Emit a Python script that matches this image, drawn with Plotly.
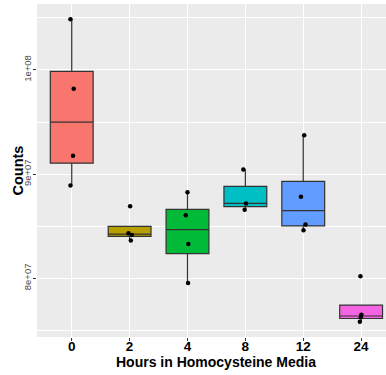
import numpy as np
import plotly.graph_objects as go

# ---- data ----
hours = ["0", "2", "4", "8", "12", "24"]
counts_0 = [104875000, 98202000, 91760000, 88913000]
counts_2 = [86923000, 84327000, 84163000, 83625000]
counts_4 = [88269000, 86058000, 83298000, 79548000]
counts_8 = [90452000, 87183000, 86567000]
counts_12 = [93721000, 87817000, 85163000, 84615000]
counts_24 = [80192000, 76510000, 76250000, 75817000]
groups = [counts_0, counts_2, counts_4, counts_8, counts_12, counts_24]

# small horizontal jitter seen in the picture (category units)
jitter = [[-0.022, 0.034, 0.022, -0.022],
          [0.009, -0.02, 0.038, 0.021],
          [0.0, -0.03, 0.015, 0.01],
          [-0.035, 0.012, -0.012],
          [0.017, -0.04, 0.04, 0.005],
          [-0.012, 0.005, -0.005, -0.022]]

colors = ["#F8766D", "#B79F00", "#00BA38", "#00BFC4", "#619CFF", "#F564E3"]
y_tickvals = [80000000, 90000000, 100000000]
y_ticktext = ["8e+07", "9e+07", "1e+08"]
y_minor = [75000000, 85000000, 95000000, 105000000]

FONT = "Liberation Sans, Arial, Helvetica, sans-serif"

fig = go.Figure()
for i, vals in enumerate(groups):
    v = np.array(vals, dtype=float)
    q1, med, q3 = np.percentile(v, [25, 50, 75])
    iqr = q3 - q1
    inside = v[(v >= q1 - 1.5 * iqr) & (v <= q3 + 1.5 * iqr)]
    lo = min(inside.min(), q1)
    hi = max(inside.max(), q3)
    fig.add_trace(go.Box(
        x=[i], q1=[q1], median=[med], q3=[q3], lowerfence=[lo], upperfence=[hi],
        fillcolor=colors[i], line=dict(color="#333333", width=1.2),
        width=0.74, whiskerwidth=0, boxpoints=False, showlegend=False,
        hoverinfo="skip"))

for i, vals in enumerate(groups):
    fig.add_trace(go.Scatter(
        x=[i + j for j in jitter[i]], y=vals, mode="markers",
        marker=dict(color="black", size=4.5), showlegend=False,
        hoverinfo="skip"))

allv = np.concatenate([np.array(g, dtype=float) for g in groups])
span = allv.max() - allv.min()
yr = [allv.min() - 0.05 * span, allv.max() + 0.05 * span]

fig.update_layout(
    width=386, height=375,
    margin=dict(l=37, r=0, t=4, b=38),
    plot_bgcolor="#EBEBEB", paper_bgcolor="white",
    font=dict(family=FONT),
    xaxis=dict(
        range=[-0.6, 5.43], tickmode="array", tickvals=list(range(len(hours))),
        ticktext=hours, tickfont=dict(size=13.5, color="black", family=FONT, weight="bold"),
        showgrid=True, gridcolor="white", gridwidth=1.4, zeroline=False,
        ticks="outside", ticklen=3, tickcolor="#333333", tickwidth=1,
        ticklabelstandoff=-6,
        showline=False, automargin=False),
    yaxis=dict(
        range=yr, tickmode="array", tickvals=y_tickvals, ticktext=y_ticktext,
        tickangle=-90, tickfont=dict(size=9.5, color="#4D4D4D", family=FONT),
        showgrid=True, gridcolor="white", gridwidth=1.4, zeroline=False,
        ticks="outside", ticklen=3, tickcolor="#333333", tickwidth=1,
        ticklabelstandoff=-2,
        minor=dict(tickmode="array", tickvals=y_minor, showgrid=True,
                   gridcolor="white", gridwidth=0.7, ticks=""),
        showline=False, automargin=False),
    annotations=[
        dict(text="<b>Counts</b>", xref="paper", yref="paper",
             x=(17 - 37) / 349, y=0.5, textangle=-90, showarrow=False,
             font=dict(size=14.5, color="black", family=FONT),
             xanchor="center", yanchor="middle"),
        dict(text="<b>Hours in Homocysteine Media</b>", xref="paper", yref="paper",
             x=(216 - 37) / 349, y=(337 - 362.5) / 333, showarrow=False,
             font=dict(size=14, color="black", family=FONT),
             xanchor="center", yanchor="middle"),
    ],
)

fig.write_html("out.html", config={"displayModeBar": False},
               post_script="document.body.style.margin='0';document.body.style.padding='0';")
